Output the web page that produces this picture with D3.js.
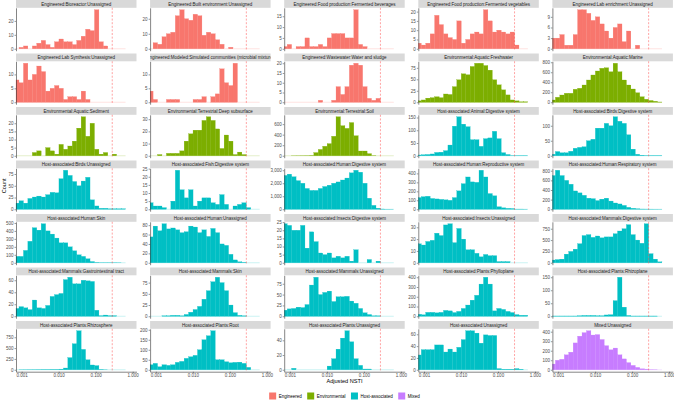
<!DOCTYPE html>
<html>
<head>
<meta charset="utf-8">
<script src="https://cdn.jsdelivr.net/npm/d3@7"></script>
<style>
body { margin: 0; background: #fff; }
svg { display: block; font-family: "Liberation Sans", Arial, sans-serif; }
</style>
</head>
<body>
<svg id="chart" width="674" height="400"></svg>
<script>
var groupNames = ["Engineered", "Environmental", "Host-associated", "Mixed"];
var groupColors = ["#F8766D", "#7CAE00", "#00BFC4", "#C77CFF"];

var facetLabels = [
    "Engineered:Bioreactor:Unassigned",
    "Engineered:Built environment:Unassigned",
    "Engineered:Food production:Fermented beverages",
    "Engineered:Food production:Fermented vegetables",
    "Engineered:Lab enrichment:Unassigned",
    "Engineered:Lab Synthesis:Unassigned",
    "Engineered:Modeled:Simulated communities (microbial mixture)",
    "Engineered:Wastewater:Water and sludge",
    "Environmental:Aquatic:Freshwater",
    "Environmental:Aquatic:Marine",
    "Environmental:Aquatic:Sediment",
    "Environmental:Terrestrial:Deep subsurface",
    "Environmental:Terrestrial:Soil",
    "Host-associated:Animal:Digestive system",
    "Host-associated:Birds:Digestive system",
    "Host-associated:Birds:Unassigned",
    "Host-associated:Fish:Digestive system",
    "Host-associated:Human:Digestive system",
    "Host-associated:Human:Reproductive system",
    "Host-associated:Human:Respiratory system",
    "Host-associated:Human:Skin",
    "Host-associated:Human:Unassigned",
    "Host-associated:Insects:Digestive system",
    "Host-associated:Insects:Unassigned",
    "Host-associated:Mammals:Digestive system",
    "Host-associated:Mammals:Gastrointestinal tract",
    "Host-associated:Mammals:Skin",
    "Host-associated:Mammals:Unassigned",
    "Host-associated:Plants:Phylloplane",
    "Host-associated:Plants:Rhizoplane",
    "Host-associated:Plants:Rhizosphere",
    "Host-associated:Plants:Root",
    "Host-associated:Plants:Unassigned",
    "Host-associated:Unassigned",
    "Mixed:Unassigned"
];

// counts per log10 bin (25 bins of width 0.12 starting at 10^-3.193)
var facetCounts = [
    [0, 1, 2, 0, 2, 4, 6, 3, 1, 5, 7, 5, 5, 3, 6, 9, 14, 13, 28, 5, 2, 0, 0, 0, 0],
    [0, 4, 3, 8, 10, 11, 22, 26, 20, 19, 23, 22, 9, 11, 10, 6, 3, 0, 1, 0, 0, 0, 0, 0, 0],
    [1, 2, 0, 1, 1, 5, 1, 1, 2, 1, 5, 7, 7, 7, 5, 5, 18, 2, 1, 0, 0, 0, 0, 0, 0],
    [3, 2, 3, 8, 18, 13, 8, 6, 5, 15, 3, 5, 8, 9, 8, 21, 15, 9, 10, 9, 8, 9, 2, 0, 0],
    [3, 3, 4, 1, 1, 4, 11, 11, 10, 8, 9, 7, 5, 3, 6, 7, 2, 5, 0, 1, 0, 0, 0, 0, 0],
    [8, 7, 14, 8, 10, 13, 11, 4, 5, 6, 5, 1, 2, 2, 1, 4, 1, 0, 0, 0, 0, 0, 0, 0, 0],
    [4, 1, 0, 0, 1, 1, 1, 0, 0, 0, 1, 1, 2, 0, 2, 3, 12, 7, 6, 14, 0, 0, 0, 0, 0],
    [0, 0, 0, 0, 0, 0, 0, 0, 1, 0, 0, 1, 8, 4, 8, 19, 20, 19, 8, 2, 1, 2, 0, 0, 0],
    [3, 5, 9, 10, 12, 10, 18, 17, 34, 49, 62, 60, 78, 85, 85, 80, 70, 49, 38, 27, 16, 5, 3, 1, 1],
    [45, 100, 145, 180, 180, 260, 280, 345, 445, 545, 625, 680, 690, 610, 780, 610, 445, 345, 265, 190, 110, 60, 35, 20, 5],
    [0, 0, 0, 0, 2, 3, 0, 5, 3, 1, 7, 4, 6, 9, 17, 24, 12, 20, 4, 1, 2, 0, 1, 0, 0],
    [0, 0, 1, 0, 2, 2, 2, 4, 12, 18, 21, 21, 29, 32, 29, 22, 6, 17, 12, 1, 3, 1, 0, 0, 0],
    [0, 0, 1, 2, 3, 4, 8, 60, 120, 180, 230, 370, 740, 570, 520, 630, 380, 90, 90, 40, 5, 0, 0, 0, 0],
    [3, 4, 5, 7, 13, 14, 20, 42, 116, 153, 124, 114, 63, 63, 37, 67, 70, 96, 67, 12, 5, 1, 1, 1, 1],
    [5, 14, 10, 10, 15, 25, 28, 30, 50, 55, 92, 92, 108, 100, 130, 115, 108, 70, 22, 5, 2, 1, 1, 1, 1],
    [13, 18, 13, 23, 26, 28, 26, 31, 36, 35, 65, 83, 72, 59, 50, 60, 68, 20, 7, 2, 2, 1, 1, 1, 1],
    [4, 2, 2, 1, 0, 5, 24, 12, 7, 12, 2, 5, 7, 7, 4, 3, 9, 3, 0, 2, 3, 4, 1, 0, 0],
    [2600, 2700, 2500, 2200, 2000, 1600, 1450, 1450, 1600, 1750, 1850, 2000, 2100, 2250, 2400, 2800, 3000, 2850, 2000, 850, 300, 80, 20, 10, 5],
    [130, 140, 145, 120, 115, 110, 105, 100, 130, 205, 285, 360, 305, 300, 435, 360, 175, 150, 28, 16, 10, 8, 2, 2, 1],
    [700, 810, 700, 600, 520, 380, 340, 290, 230, 220, 180, 210, 230, 170, 130, 110, 80, 40, 20, 10, 5, 4, 3, 2, 1],
    [80, 80, 155, 270, 440, 410, 490, 400, 360, 310, 250, 250, 200, 150, 100, 80, 50, 15, 5, 2, 2, 2, 2, 1, 0],
    [55, 78, 68, 83, 72, 74, 70, 64, 66, 78, 76, 64, 70, 56, 73, 64, 40, 37, 18, 6, 2, 1, 0, 0, 0],
    [24, 23, 20, 20, 23, 9, 19, 13, 6, 5, 6, 3, 4, 3, 4, 1, 8, 0, 0, 2, 0, 1, 0, 0, 0],
    [16, 15, 18, 19, 25, 23, 32, 33, 17, 29, 20, 11, 11, 8, 5, 7, 6, 6, 1, 1, 1, 0, 0, 0, 0],
    [60, 70, 80, 190, 250, 300, 420, 600, 620, 560, 590, 550, 570, 570, 640, 700, 750, 840, 620, 500, 430, 860, 200, 80, 20],
    [13, 16, 14, 11, 27, 14, 13, 18, 33, 36, 38, 61, 65, 54, 54, 60, 59, 58, 10, 1, 2, 1, 1, 0, 0],
    [0, 0, 0, 1, 1, 2, 2, 1, 4, 9, 15, 22, 38, 57, 77, 87, 75, 57, 25, 8, 2, 1, 0, 0, 0],
    [14, 17, 18, 21, 20, 27, 72, 90, 50, 55, 58, 34, 45, 45, 46, 35, 30, 18, 8, 4, 1, 1, 0, 0, 0],
    [20, 15, 40, 40, 35, 40, 60, 55, 38, 50, 80, 115, 165, 215, 330, 400, 330, 55, 80, 70, 50, 38, 17, 10, 10],
    [1, 1, 1, 1, 1, 1, 2, 3, 3, 3, 2, 2, 5, 6, 60, 150, 35, 3, 1, 1, 1, 1, 1, 1, 0],
    [0, 2, 3, 4, 5, 6, 8, 8, 10, 10, 15, 40, 280, 600, 900, 470, 230, 110, 95, 10, 2, 0, 0, 0, 0],
    [25, 32, 15, 25, 22, 25, 37, 42, 57, 65, 72, 100, 150, 170, 195, 50, 50, 40, 35, 37, 38, 32, 12, 0, 0],
    [0, 0, 2, 0, 0, 0, 0, 0, 0, 0, 5, 15, 28, 43, 53, 38, 15, 6, 1, 1, 0, 0, 0, 0, 0],
    [25, 34, 34, 34, 42, 42, 30, 35, 30, 38, 51, 66, 66, 62, 45, 59, 58, 58, 2, 1, 1, 1, 2, 1, 0],
    [60, 100, 110, 157, 185, 282, 353, 390, 410, 365, 370, 318, 253, 210, 228, 157, 114, 75, 46, 25, 10, 7, 2, 1, 0]
];

var facetTicks = [
    [0, 10, 20], [0, 10, 20], [0, 5, 10, 15], [0, 5, 10, 15, 20], [0, 3, 6, 9],
    [0, 5, 10], [0, 5, 10], [0, 5, 10, 15, 20], [0, 25, 50, 75], [0, 200, 400, 600, 800],
    [0, 5, 10, 15, 20], [0, 10, 20, 30], [0, 200, 400, 600], [0, 50, 100, 150], [0, 50, 100],
    [0, 25, 50, 75], [0, 5, 10, 15, 20, 25], [0, 1000, 2000, 3000], [0, 100, 200, 300, 400], [0, 200, 400, 600, 800],
    [0, 100, 200, 300, 400, 500], [0, 20, 40, 60, 80], [0, 5, 10, 15, 20, 25], [0, 10, 20, 30], [0, 250, 500, 750],
    [0, 20, 40, 60], [0, 25, 50, 75], [0, 25, 50, 75], [0, 100, 200, 300, 400], [0, 50, 100, 150],
    [0, 250, 500, 750], [0, 50, 100, 150, 200], [0, 20, 40], [0, 20, 40, 60], [0, 100, 200, 300, 400]
];

var xTickLabels = ["0.001", "0.010", "0.100", "1.000"];
var BIN_START = -3.193, BIN_WIDTH = 0.12;
var NSTI_CUTOFF = 0.28;

// layout
var N_COLS = 5;
var PANEL_X0 = 16, COL_STEP = 134.1, PANEL_W = 120.5;
var ROW_STEP = 53.5, STRIP_H = 7.8, PLOT_H = 42.9;
var X_MIN_LOG = -3.154, X_MAX_LOG = 0.103;
var nRows = Math.ceil(facetLabels.length / N_COLS);

var svg = d3.select("#chart");
var defs = svg.append("defs");

function groupColor(label) {
    return groupColors[groupNames.indexOf(label.split(":")[0])];
}

function drawFacet(i) {
    var col = i % N_COLS, row = Math.floor(i / N_COLS);
    var left = PANEL_X0 + col * COL_STEP;
    var top = row * ROW_STEP;
    var plotTop = top + STRIP_H, plotBottom = plotTop + PLOT_H;
    var counts = facetCounts[i];
    var maxCount = d3.max(counts);
    var color = groupColor(facetLabels[i]);

    var x = d3.scaleLog()
        .domain([Math.pow(10, X_MIN_LOG), Math.pow(10, X_MAX_LOG)])
        .range([left, left + PANEL_W]);
    var y = d3.scaleLinear()
        .domain([-0.05 * maxCount, 1.05 * maxCount])
        .range([plotBottom, plotTop]);

    var g = svg.append("g");

    // strip
    defs.append("clipPath").attr("id", "strip" + i)
        .append("rect").attr("x", left).attr("y", top).attr("width", PANEL_W).attr("height", STRIP_H);
    g.append("rect")
        .attr("x", left).attr("y", top)
        .attr("width", PANEL_W).attr("height", STRIP_H)
        .attr("fill", "#D9D9D9");
    g.append("text")
        .attr("clip-path", "url(#strip" + i + ")")
        .attr("x", left + PANEL_W / 2).attr("y", top + STRIP_H / 2)
        .attr("dy", "0.36em")
        .attr("text-anchor", "middle")
        .attr("font-size", 4.5)
        .attr("fill", "#1A1A1A")
        .text(facetLabels[i]);

    var bins = counts.map(function (c, j) {
        return {
            x0: Math.pow(10, BIN_START + j * BIN_WIDTH),
            x1: Math.pow(10, BIN_START + (j + 1) * BIN_WIDTH),
            count: c
        };
    });

    // faint baseline for empty bins
    g.append("line")
        .attr("x1", Math.max(left, x(bins[0].x0)))
        .attr("x2", x(bins[bins.length - 1].x1))
        .attr("y1", y(0)).attr("y2", y(0))
        .attr("stroke", color).attr("stroke-opacity", 0.35)
        .attr("stroke-width", 0.6);

    g.append("g").selectAll("rect")
        .data(bins.filter(function (d) { return d.count > 0; }))
        .enter().append("rect")
        .attr("x", function (d) { return Math.max(left, x(d.x0)); })
        .attr("width", function (d) { return x(d.x1) - Math.max(left, x(d.x0)); })
        .attr("y", function (d) { return y(d.count); })
        .attr("height", function (d) { return y(0) - y(d.count); })
        .attr("fill", color)
        .attr("stroke", color)
        .attr("stroke-width", 0.25);

    // cutoff line
    g.append("line")
        .attr("x1", x(NSTI_CUTOFF)).attr("x2", x(NSTI_CUTOFF))
        .attr("y1", plotTop).attr("y2", plotBottom)
        .attr("stroke", "#FF4040").attr("stroke-opacity", 0.8)
        .attr("stroke-width", 0.6)
        .attr("stroke-dasharray", "2,1.6");

    // y axis
    var yAxis = d3.axisLeft(y)
        .tickValues(facetTicks[i])
        .tickSize(1.5)
        .tickSizeOuter(0)
        .tickPadding(1);
    var ya = g.append("g").attr("transform", "translate(" + left + ",0)").call(yAxis);
    styleAxis(ya);

    // x axis on bottom row only
    if (row === nRows - 1) {
        var xAxis = d3.axisBottom(x)
            .tickValues(xTickLabels.map(Number))
            .tickFormat(function (d, k) { return xTickLabels[k]; })
            .tickSize(1.5)
            .tickSizeOuter(0)
            .tickPadding(1);
        var xa = g.append("g").attr("transform", "translate(0," + plotBottom + ")").call(xAxis);
        styleAxis(xa);
    }
}

function styleAxis(sel) {
    sel.select(".domain").attr("stroke", "#333").attr("stroke-width", 0.6);
    sel.selectAll(".tick line").attr("stroke", "#333").attr("stroke-width", 0.5);
    sel.selectAll(".tick text").attr("fill", "#4D4D4D").attr("font-size", 4.5)
        .attr("font-family", "Liberation Sans, Arial, sans-serif");
}

for (var i = 0; i < facetLabels.length; i++) {
    drawFacet(i);
}

var areaCenter = PANEL_X0 + ((N_COLS - 1) * COL_STEP + PANEL_W) / 2;

svg.append("text")
    .attr("x", areaCenter).attr("y", 383)
    .attr("text-anchor", "middle")
    .attr("font-size", 5.6)
    .attr("fill", "#000")
    .text("Adjusted NSTI");

svg.append("text")
    .attr("transform", "translate(5.5," + ((nRows - 1) * ROW_STEP + STRIP_H + PLOT_H) / 2 + ") rotate(-90)")
    .attr("text-anchor", "middle")
    .attr("font-size", 5.6)
    .attr("fill", "#000")
    .text("Count");

// legend
var KEY = 7, KEY_GAP = 2.5, ITEM_GAP = 5.5, LEGEND_Y = 396;
var legend = svg.append("g");
var items = legend.selectAll("g").data(groupNames).enter().append("g");
items.append("rect")
    .attr("width", KEY).attr("height", KEY)
    .attr("y", LEGEND_Y - KEY / 2)
    .attr("fill", function (d, k) { return groupColors[k]; });
items.append("text")
    .attr("x", KEY + KEY_GAP).attr("y", LEGEND_Y)
    .attr("dy", "0.35em")
    .attr("font-size", 4.5)
    .attr("fill", "#000")
    .text(function (d) { return d; });
var offset = 0, offsets = [];
items.each(function () {
    offsets.push(offset);
    offset += KEY + KEY_GAP + this.querySelector("text").getComputedTextLength() + ITEM_GAP;
});
var totalW = offset - ITEM_GAP;
items.attr("transform", function (d, k) {
    return "translate(" + (areaCenter - totalW / 2 + offsets[k]) + ",0)";
});
</script>
</body>
</html>
